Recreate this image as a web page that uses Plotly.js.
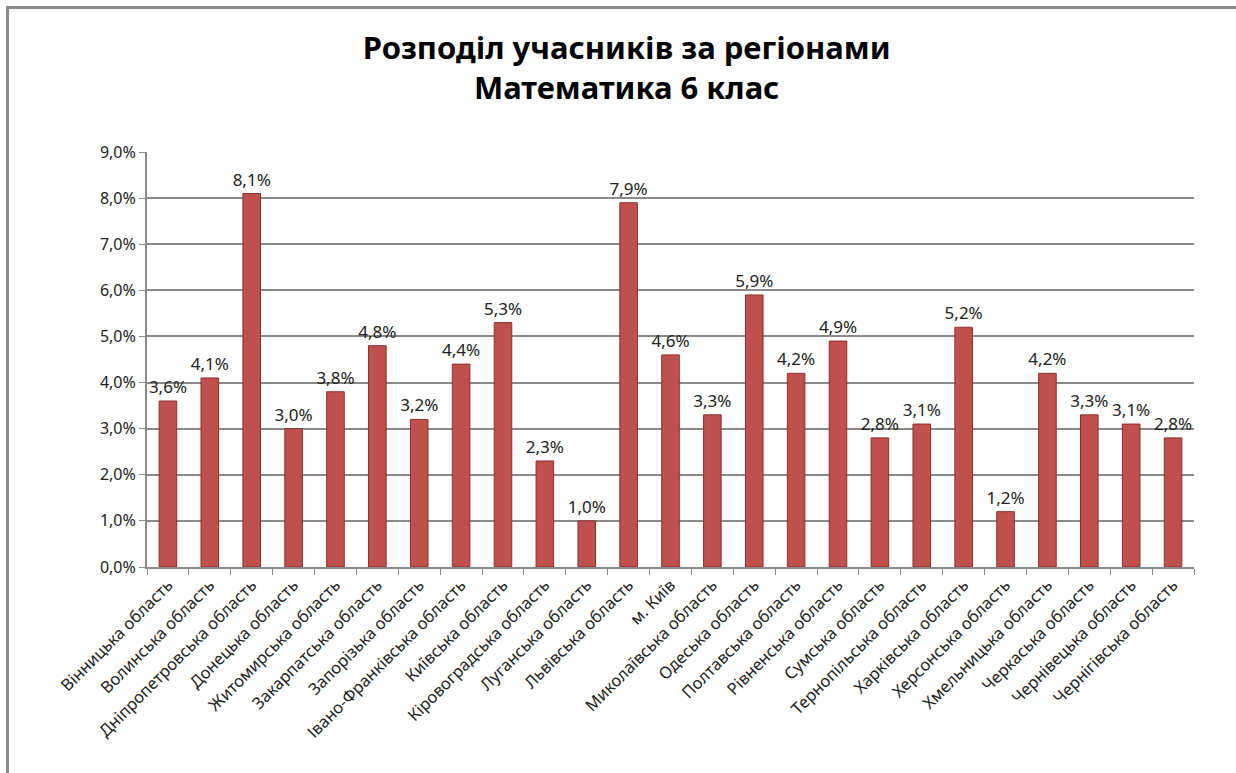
<!DOCTYPE html>
<html>
<head>
<meta charset="utf-8">
<script src="https://cdn.plot.ly/plotly-3.0.1.min.js"></script>
<style>
  html, body { margin: 0; padding: 0; background: #fff; }
  #frame { position: absolute; left: 6px; top: 6px; width: 1300px; height: 900px; border-left: 3px solid #8a8a8a; border-top: 3px solid #8a8a8a; pointer-events: none; z-index: 5; }
  #chart { width: 1236px; height: 773px; }
</style>
</head>
<body>
<div id="frame"></div>
<div id="chart"></div>
<script>
const regions = [
  "Вінницька область", "Волинська область", "Дніпропетровська область", "Донецька область",
  "Житомирська область", "Закарпатська область", "Запорізька область", "Івано-Франківська область",
  "Київська область", "Кіровоградська область", "Луганська область", "Львівська область",
  "м. Київ", "Миколаївська область", "Одеська область", "Полтавська область",
  "Рівненська область", "Сумська область", "Тернопільська область", "Харківська область",
  "Херсонська область", "Хмельницька область", "Черкаська область", "Чернівецька область",
  "Чернігівська область"
];
const shares = [3.6, 4.1, 8.1, 3.0, 3.8, 4.8, 3.2, 4.4, 5.3, 2.3, 1.0, 7.9, 4.6, 3.3, 5.9, 4.2, 4.9, 2.8, 3.1, 5.2, 1.2, 4.2, 3.3, 3.1, 2.8];
const yTicks = [0, 1, 2, 3, 4, 5, 6, 7, 8, 9];
const yTickText = yTicks.map(v => v.toFixed(1).replace(".", ",") + "%");

const trace = {
  type: "bar",
  x: regions,
  y: shares,
  marker: { color: "#C0504D", line: { color: "#8C2F2C", width: 1 } },
  texttemplate: "%{y:.1f}%",
  textposition: "outside",
  constraintext: "none",
  cliponaxis: false,
  textfont: { family: "Noto Sans, sans-serif", size: 17, color: "#222" },
  hoverinfo: "x+y"
};

const layout = {
  width: 1236, height: 773,
  margin: { l: 147, r: 42, t: 152, b: 206 },
  paper_bgcolor: "#ffffff",
  plot_bgcolor: "#ffffff",
  separators: ", ",
  bargap: 0.58,
  showlegend: false,
  title: {
    text: "<b>Розподіл учасників за регіонами<br>Математика 6 клас</b>",
    x: 0.507, xanchor: "center",
    yref: "container",
    y: 0.924, yanchor: "middle",
    font: { family: "Noto Sans, sans-serif", size: 31, color: "#000" }
  },
  xaxis: {
    type: "category",
    tickangle: -45,
    tickson: "boundaries",
    ticks: "outside", ticklen: 6, tickcolor: "#8a8a8a",
    showline: true, linecolor: "#8a8a8a", linewidth: 2,
    showgrid: false,
    tickfont: { family: "Noto Sans, sans-serif", size: 16.5, color: "#222" }
  },
  yaxis: {
    range: [0, 9],
    tickvals: yTicks,
    ticktext: yTickText,
    ticks: "outside", ticklen: 6, tickcolor: "#8a8a8a",
    showline: true, linecolor: "#8a8a8a", linewidth: 2,
    showgrid: true, gridcolor: "#8a8a8a", gridwidth: 2,
    zeroline: false,
    tickfont: { family: "Noto Sans, sans-serif", size: 16, color: "#222" }
  }
};

Plotly.newPlot("chart", [trace], layout, { displayModeBar: false });
</script>
</body>
</html>
